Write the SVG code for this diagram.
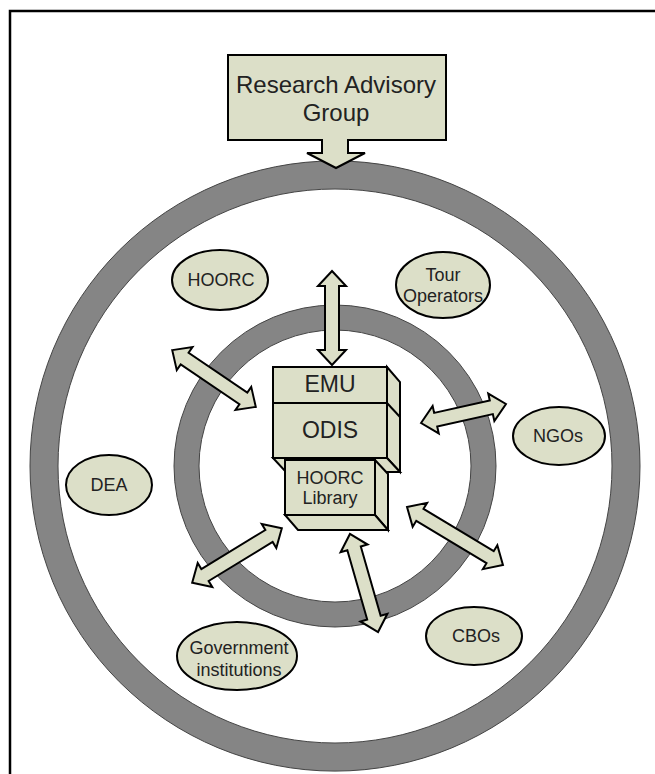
<svg xmlns="http://www.w3.org/2000/svg" width="655" height="774" viewBox="0 0 655 774">
<style>
.f{fill:#dcdfc8;stroke:#000;stroke-width:2;stroke-linejoin:miter}
.ring{fill:#858585;stroke:#444;stroke-width:1;fill-rule:evenodd}
.t{font-family:"Liberation Sans",Arial,sans-serif;fill:#222;text-anchor:middle}
.s18{font-size:18px}
.s23{font-size:23px}
.s24{font-size:24px}
</style>
<rect x="10" y="11" width="700" height="800" fill="#fff" stroke="#000" stroke-width="2.5"/>
<g id="outer-ring">
<path class="ring" d="M30,466a305,305 0 1,0 610,0a305,305 0 1,0 -610,0zM58,466a277,277 0 1,0 554,0a277,277 0 1,0 -554,0z"/>
</g>
<g id="inner-ring">
<path class="ring" d="M174,466a161,161 0 1,0 322,0a161,161 0 1,0 -322,0zM199,466a136,136 0 1,0 272,0a136,136 0 1,0 -272,0z"/>
</g>
<g id="research-advisory-group">
<path class="f" d="M228,55H446V140H348V153H365L336,168L307,153H322V140H228Z"/>
<text class="t s24" x="336" y="93">Research Advisory</text>
<text class="t s24" x="336" y="121">Group</text>
</g>
<g id="connectors">
<polygon class="f" transform="translate(332,318) rotate(90)" points="-47,0 -32,-14 -32,-7 32,-7 32,-14 47,0 32,14 32,7 -32,7 -32,14"/>
<polygon class="f" transform="translate(214,378.5) rotate(34.2)" points="-50.5,0 -35.5,-14 -35.5,-7 35.5,-7 35.5,-14 50.5,0 35.5,14 35.5,7 -35.5,7 -35.5,14"/>
<polygon class="f" transform="translate(463.5,413.5) rotate(-12.6)" points="-43.5,0 -28.5,-14 -28.5,-7 28.5,-7 28.5,-14 43.5,0 28.5,14 28.5,7 -28.5,7 -28.5,14"/>
<polygon class="f" transform="translate(237,555.5) rotate(-31.4)" points="-52.5,0 -37.5,-14 -37.5,-7 37.5,-7 37.5,-14 52.5,0 37.5,14 37.5,7 -37.5,7 -37.5,14"/>
<polygon class="f" transform="translate(364,583) rotate(74)" points="-51,0 -36,-14 -36,-7 36,-7 36,-14 51,0 36,14 36,7 -36,7 -36,14"/>
<polygon class="f" transform="translate(455,536) rotate(31.1)" points="-56,0 -41,-14 -41,-7 41,-7 41,-14 56,0 41,14 41,7 -41,7 -41,14"/>
</g>
<g id="central-stack">
<polygon class="f" points="387,367 400,382 400,472 387,458"/>
<line x1="387" y1="403" x2="400" y2="417" stroke="#000" stroke-width="2"/>
<polygon class="f" points="273,458 387,458 400,472 286,472"/>
<rect class="f" x="273" y="367" width="114" height="36"/>
<rect class="f" x="273" y="403" width="114" height="55"/>
<text class="t s23" x="330" y="392">EMU</text>
<text class="t s23" x="330" y="438">ODIS</text>
</g>
<g id="hoorc-library">
<polygon class="f" points="375,460 388,474 388,530 375,515"/>
<polygon class="f" points="285,515 375,515 388,530 298,530"/>
<rect class="f" x="285" y="460" width="90" height="55"/>
<text class="t s18" x="330" y="484">HOORC</text>
<text class="t s18" x="330" y="504">Library</text>
</g>
<g id="hoorc">
<ellipse class="f" cx="220" cy="280" rx="48" ry="30"/>
<text class="t s18" x="221" y="286">HOORC</text>
</g>
<g id="tour-operators">
<ellipse class="f" cx="443" cy="285" rx="47" ry="33"/>
<text class="t s18" x="443" y="281">Tour</text>
<text class="t s18" x="443" y="302">Operators</text>
</g>
<g id="ngos">
<ellipse class="f" cx="559" cy="436" rx="46" ry="29"/>
<text class="t s18" x="558" y="442">NGOs</text>
</g>
<g id="dea">
<ellipse class="f" cx="109" cy="485" rx="43" ry="30"/>
<text class="t s18" x="109" y="491">DEA</text>
</g>
<g id="government-institutions">
<ellipse class="f" cx="237" cy="656" rx="60" ry="34"/>
<text class="t s18" x="239" y="654">Government</text>
<text class="t s18" x="239" y="676">institutions</text>
</g>
<g id="cbos">
<ellipse class="f" cx="474" cy="636" rx="48" ry="29"/>
<text class="t s18" x="476" y="642">CBOs</text>
</g>
</svg>
